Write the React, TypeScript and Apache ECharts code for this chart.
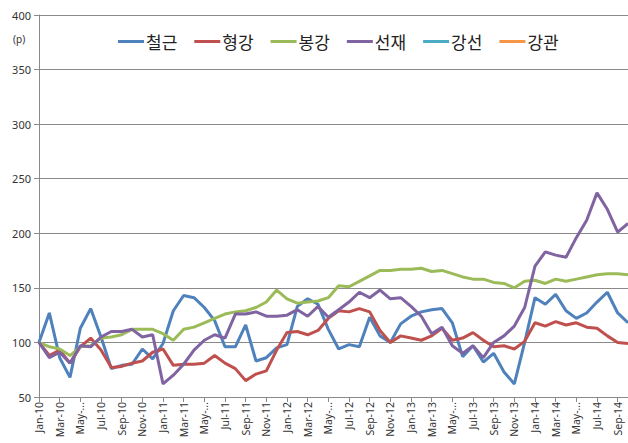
import React, { useEffect, useRef } from "react";
import * as echarts from "echarts";

const months = [
  "Jan-10","Feb-10","Mar-10","Apr-10","May-10","Jun-10","Jul-10","Aug-10","Sep-10","Oct-10","Nov-10","Dec-10",
  "Jan-11","Feb-11","Mar-11","Apr-11","May-11","Jun-11","Jul-11","Aug-11","Sep-11","Oct-11","Nov-11","Dec-11",
  "Jan-12","Feb-12","Mar-12","Apr-12","May-12","Jun-12","Jul-12","Aug-12","Sep-12","Oct-12","Nov-12","Dec-12",
  "Jan-13","Feb-13","Mar-13","Apr-13","May-13","Jun-13","Jul-13","Aug-13","Sep-13","Oct-13","Nov-13","Dec-13",
  "Jan-14","Feb-14","Mar-14","Apr-14","May-14","Jun-14","Jul-14","Aug-14","Sep-14","Oct-14",
];

const rebar = [
  100,127,86,68,113,131,105,76,79,80,94,85,
  99,129,143,141,132,120,96,96,116,83,86,95,
  98,133,140,135,112,94,98,96,123,106,100,117,
  124,128,130,131,118,87,97,82,90,73,62,100,
  141,135,144,129,122,127,137,146,127,118,
];
const section = [
  100,88,93,81,96,104,93,77,78,81,83,91,
  94,79,80,80,81,88,81,76,65,71,74,93,
  109,110,107,111,122,129,128,131,128,111,100,106,
  104,102,106,113,102,104,109,102,96,97,94,101,
  118,115,119,116,118,114,113,106,100,99,
];
const bar = [
  100,96,94,88,96,97,104,105,107,112,112,112,
  108,102,112,114,118,122,126,128,129,132,137,148,
  140,136,137,138,141,152,151,156,161,166,166,167,
  167,168,165,166,163,160,158,158,155,154,150,156,
  157,154,158,156,158,160,162,163,163,162,
];
const wireRod = [
  100,86,91,81,97,96,105,110,110,112,105,107,
  62,70,80,93,102,107,104,126,126,128,124,124,
  125,130,124,133,123,130,137,146,141,148,140,141,
  133,124,108,114,97,90,97,86,100,106,115,132,
  170,183,180,178,196,212,237,222,201,209,
];
const steelWire: number[] = [];
const pipe: number[] = [];

const seriesNames = ["철근", "형강", "봉강", "선재", "강선", "강관"];
const seriesColors = ["#4F81BD", "#C0504D", "#9BBB59", "#8064A2", "#4BACC6", "#F79646"];
const seriesData = [rebar, section, bar, wireRod, steelWire, pipe];

export default function App() {
  const ref = useRef<HTMLDivElement>(null);
  useEffect(() => {
    if (!ref.current) return;
    const chart = echarts.init(ref.current, undefined, { renderer: "svg" });
    chart.setOption({
      animation: false,
      backgroundColor: "#ffffff",
      grid: { left: 39, right: -2, top: 15, bottom: 46 },
      legend: {
        left: 113,
        top: 28,
        itemWidth: 26,
        itemHeight: 3,
        itemGap: 17,
        icon: "rect",
        textStyle: {
          fontFamily: "Noto Sans CJK KR",
          fontSize: 17,
          color: "#222",
          padding: [0, 0, 0, -3],
        },
        data: seriesNames,
      },
      graphic: [
        {
          type: "text",
          left: 13,
          top: 34,
          style: { text: "(p)", fontFamily: "Noto Sans", fontSize: 10, fill: "#333" },
        },
      ],
      xAxis: {
        type: "category",
        data: months,
        boundaryGap: false,
        axisLine: { lineStyle: { color: "#8a8a8a", width: 1 } },
        axisTick: { show: true, interval: 1, length: 5, lineStyle: { color: "#8a8a8a" } },
        axisLabel: {
          interval: 1,
          rotate: 90,
          margin: 5,
          fontFamily: "Noto Sans",
          fontSize: 10.5,
          color: "#333",
          formatter: (v: string) => (v.startsWith("May") ? "May-..." : v),
        },
        splitLine: { show: false },
      },
      yAxis: {
        type: "value",
        min: 50,
        max: 400,
        interval: 50,
        axisLine: { show: true, lineStyle: { color: "#8a8a8a", width: 1 } },
        axisTick: { show: true, length: 5, lineStyle: { color: "#8a8a8a" } },
        axisLabel: { fontFamily: "Noto Sans", fontSize: 11, color: "#333", margin: 8 },
        splitLine: { show: true, lineStyle: { color: "#8a8a8a", width: 1 } },
      },
      series: seriesNames.map((name, i) => ({
        name,
        type: "line",
        data: seriesData[i],
        symbol: "none",
        color: seriesColors[i],
        lineStyle: { width: 3, color: seriesColors[i] },
        itemStyle: { color: seriesColors[i] },
      })),
    });
    return () => chart.dispose();
  }, []);
  return (
    <div
      ref={ref}
      style={{ position: "fixed", left: 0, top: 0, width: 628, height: 443 }}
    />
  );
}
